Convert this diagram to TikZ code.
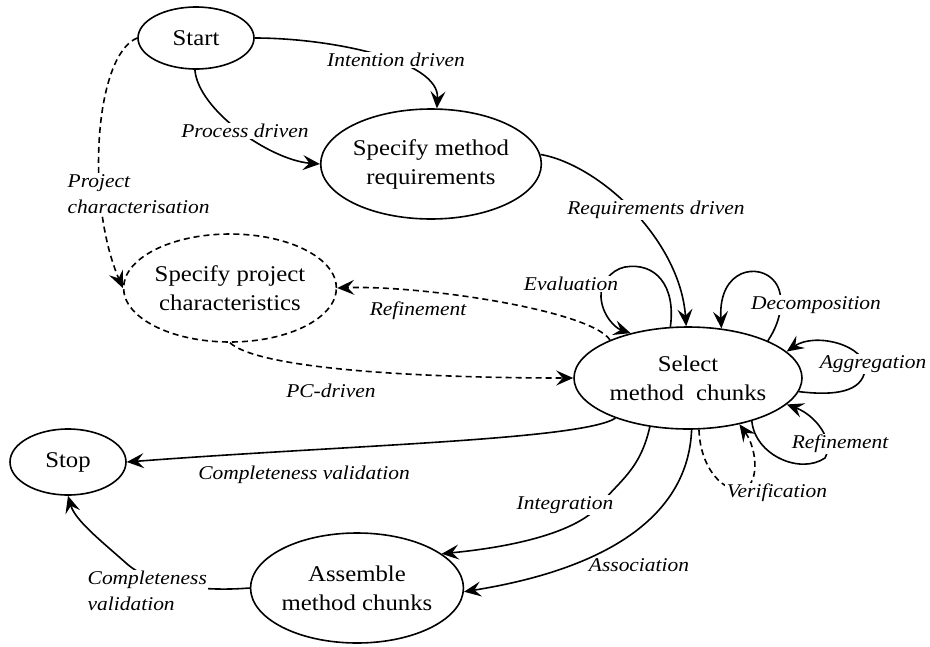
\documentclass[tikz,border=0pt]{standalone}
\usepackage{fontspec}
\setmainfont[FakeStretch=1.1]{Liberation Serif}
\usetikzlibrary{shapes.geometric,arrows.meta}
\begin{document}
\begin{tikzpicture}[x=1pt,y=-1pt,
  state/.style={ellipse, draw, line width=1.6pt, inner sep=0pt, align=center,
    font=\fontsize{22.5}{29}\selectfont},
  lbl/.style={font=\itshape\fontsize{19.5}{26}\selectfont, fill=white,
    inner sep=1.5pt, align=center},
  conn/.style={line width=1.6pt},
  arr/.style={conn, -{Stealth[length=17pt,width=15pt,inset=6.5pt]}},
  dsh/.style={dash pattern=on 6pt off 4pt}]
\useasboundingbox (0,0) rectangle (930,646);

% intentions (states)
\node[state, minimum width=116pt, minimum height=62pt] (start) at (196,38) {Start};
\node[state, minimum width=182pt, minimum height=110pt] (smr) at (431,164) {Specify method\\requirements};
\node[state, dsh, minimum width=194pt, minimum height=108pt] (spc) at (230,288) {Specify project\\characteristics};
\node[state, minimum width=228pt, minimum height=102pt] (sel) at (688,378) {Select\\method~ chunks};
\node[state, minimum width=116pt, minimum height=66pt] (stop) at (68,462) {Stop};
\node[state, minimum width=200pt, minimum height=110pt] (asm) at (357,588) {Assemble\\method chunks};

% strategies (connectors)
\draw[arr] (start.east) .. controls (330,38) and (440,60) .. (smr.84);
\draw[arr] (start.268) .. controls (198,110) and (270,160) .. (smr.west);
\draw[arr,dsh] (start.west) .. controls (95,55) and (85,200) .. (spc.west);
\draw[arr] (smr.5) .. controls (600,165) and (680,240) .. (sel.92);
\draw[arr,dsh] (sel.154) .. controls (590,310) and (420,285) .. (spc.east);
\draw[arr,dsh] (spc.south) .. controls (260,370) and (430,378) .. (sel.west);
\draw[arr] (sel.109) .. controls (676,285) and (655,262) .. (625,267)
  .. controls (610,270) and (600,285) .. (601,297)
  .. controls (602,315) and (615,328) .. (sel.142);
\draw[arr] (sel.25) .. controls (782,320) and (785,295) .. (775,282)
  .. controls (760,262) and (718,268) .. (sel.56);
\draw[arr] (sel.-7) .. controls (835,396) and (862,392) .. (865,370)
  .. controls (867,345) and (815,332) .. (sel.15);
\draw[arr] (sel.-34) .. controls (755,455) and (800,475) .. (825,458)
  .. controls (835,440) and (815,415) .. (sel.-15);
\draw[arr,dsh] (sel.-78) .. controls (700,465) and (720,490) .. (740,490)
  .. controls (760,488) and (758,450) .. (sel.-42);
\draw[arr] (sel.209) .. controls (580,440) and (350,445) .. (stop.east);
\draw[arr] (sel.232) .. controls (640,470) and (620,480) .. (600,505)
  .. controls (570,540) and (480,550) .. (asm.22);
\draw[arr] (sel.-86) .. controls (688,520) and (600,570) .. (asm.-2);
\draw[arr] (asm.west) .. controls (200,592) and (150,585) .. (126,563)
  .. controls (100,540) and (75,520) .. (stop.south);

% strategy labels
\node[lbl] (intL) at (396,60) {Intention driven};
\node[lbl] (procL) at (245,131) {Process driven};
\node[lbl, anchor=west, align=left] (projL) at (66,194) {Project\\characterisation};
\node[lbl] (reqL) at (656,210) {Requirements driven};
\node[lbl] (evalL) at (571,284) {Evaluation};
\node[lbl] (refL) at (418,311) {Refinement};
\node[lbl] (pcL) at (331,391) {PC-driven};
\node[lbl] (decL) at (816,305) {Decomposition};
\node[lbl] (aggL) at (873,364) {Aggregation};
\node[lbl] (refR) at (840,444) {Refinement};
\node[lbl] (verL) at (777,493) {Verification};
\node[lbl] (cvA) at (304,475) {Completeness validation};
\node[lbl] (intgL) at (565,505) {Integration};
\node[lbl, fill=none] (assocL) at (639,565) {Association};
\node[lbl, anchor=west, align=left] (cvB) at (86,591) {Completeness\\validation};
\end{tikzpicture}
\end{document}
